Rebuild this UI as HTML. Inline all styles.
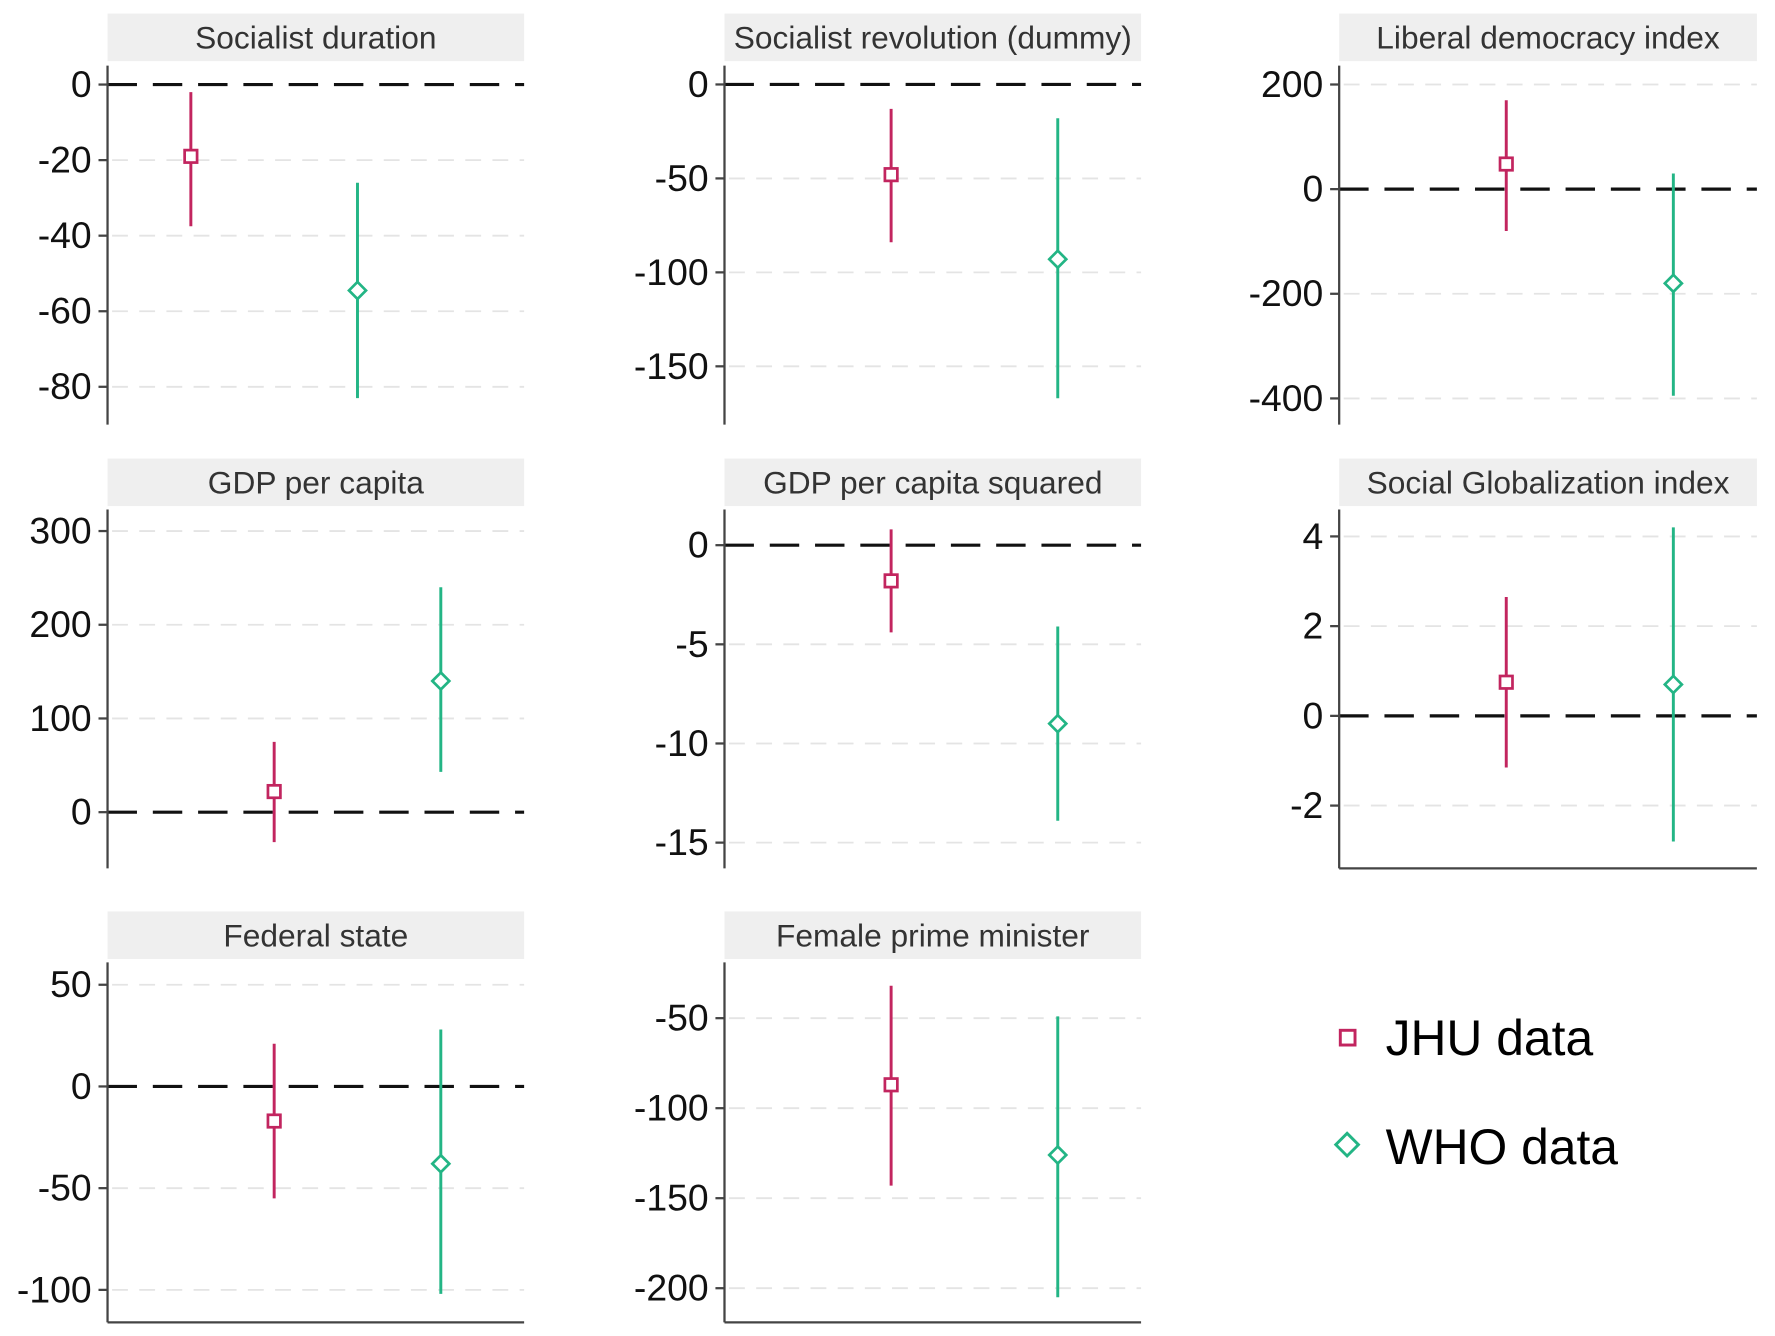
<!DOCTYPE html>
<html><head><meta charset="utf-8">
<style>
html,body{margin:0;padding:0;background:#fff;}
svg{display:block;}
text{font-family:"Liberation Sans",Arial,sans-serif;}
</style></head>
<body>
<svg id="chart" width="1775" height="1336" viewBox="0 0 1568 1180" preserveAspectRatio="none" xmlns="http://www.w3.org/2000/svg"></svg>
<script>
const titles = ["Socialist duration","Socialist revolution (dummy)","Liberal democracy index","GDP per capita","GDP per capita squared","Social Globalization index","Federal state","Female prime minister"];
const jhuEst = [-19,-48,48,22,-1.8,0.75,-17,-87];
const jhuLo  = [-37.5,-84,-80,-32,-4.4,-1.15,-55,-143];
const jhuHi  = [-2,-13,170,75,0.8,2.65,21,-32];
const whoEst = [-54.5,-93,-180,140,-9,0.7,-38,-126];
const whoLo  = [-83,-167,-395,43,-13.9,-2.8,-102,-205];
const whoHi  = [-26,-18,30,240,-4.1,4.2,28,-49];
const ticks = [[0,-20,-40,-60,-80],[0,-50,-100,-150],[200,0,-200,-400],[300,200,100,0],[0,-5,-10,-15],[4,2,0,-2],[50,0,-50,-100],[-50,-100,-150,-200]];
const yMax = [5,10,236,323,1.8,4.6,61,-19];
const yMin = [-90,-181,-450,-60,-16.3,-3.4,-116,-219];
const xJhu = [0.2,0.4,0.4,0.4,0.4,0.4,0.4,0.4];
const xWho = [0.6,0.8,0.8,0.8,0.8,0.8,0.8,0.8];

const NS="http://www.w3.org/2000/svg";
const svg=document.getElementById('chart');
const colL=[95,640,1183], colR=[463,1008,1552];
const rowHead=[12,405,805], rowTop=[58,450,850], rowBot=[375,767,1168];
const bottomAxis=[false,false,false,false,false,true,true,true];
const JHU="#c2255f", WHO="#23b585";
function mk(tag,attrs,parent){const e=document.createElementNS(NS,tag);for(const k in attrs)e.setAttribute(k,attrs[k]);(parent||svg).appendChild(e);return e;}

for(let i=0;i<8;i++){
  const c=i%3, r=Math.floor(i/3);
  const L=colL[c], R=colR[c], T=rowTop[r], B=rowBot[r];
  const g=mk('g',{});
  
  
  const y=v=>T+(yMax[i]-v)/(yMax[i]-yMin[i])*(B-T);
  const x=f=>L+f*(R-L);
  const hb=mk('rect',{x:L,y:rowHead[r],width:R-L,height:42,fill:'#efefef'},g);
  
  
  const ht=mk('text',{x:(L+R)/2,y:rowHead[r]+31,'text-anchor':'middle','font-size':28,fill:'#333'},g);
  ht.textContent=titles[i];
  
  
  ticks[i].forEach(t=>{
    const yy=y(t);
    if(t!==0){const gl=mk('line',{x1:L+4,x2:R,y1:yy,y2:yy,stroke:'#e4e4e4','stroke-width':1.6,'stroke-dasharray':'14,10'},g);
      
      }
    mk('line',{x1:L-8,x2:L,y1:yy,y2:yy,stroke:'#444','stroke-width':2},g);
    const tl=mk('text',{x:L-14,y:yy+11,'text-anchor':'end','font-size':33,fill:'#111'},g);
    tl.textContent=t;
    
    
  });
  if(yMin[i]<0 && yMax[i]>0){
    const z=mk('line',{x1:L,x2:R,y1:y(0),y2:y(0),stroke:'#111','stroke-width':2.8,'stroke-dasharray':'26,14'},g);
    
    
  }
  const ax=mk('line',{x1:L,x2:L,y1:T,y2:B,stroke:'#444','stroke-width':2},g);
  
  
  if(bottomAxis[i]){const bx=mk('line',{x1:L,x2:R,y1:B,y2:B,stroke:'#444','stroke-width':2},g);
    
    }
  const xj=x(xJhu[i]);
  const cj=mk('line',{x1:xj,x2:xj,y1:y(jhuHi[i]),y2:y(jhuLo[i]),stroke:JHU,'stroke-width':2.6},g);
  
  
  const pj=mk('rect',{x:xj-5.5,y:y(jhuEst[i])-5.5,width:11,height:11,fill:'#fff',stroke:JHU,'stroke-width':2.4},g);
  
  
  const xw=x(xWho[i]);
  const cw=mk('line',{x1:xw,x2:xw,y1:y(whoHi[i]),y2:y(whoLo[i]),stroke:WHO,'stroke-width':2.6},g);
  
  
  const yw=y(whoEst[i]);
  const pw=mk('polygon',{points:`${xw},${yw-7.5} ${xw+7.5},${yw} ${xw},${yw+7.5} ${xw-7.5},${yw}`,fill:'#fff',stroke:WHO,'stroke-width':2.4},g);
  
  
}
const lg=mk('g',{});


const l1=mk('rect',{x:1184,y:910,width:13,height:13,fill:'#fff',stroke:JHU,'stroke-width':2.6},lg);


const t1=mk('text',{x:1224,y:932,'font-size':44,fill:'#000'},lg);t1.textContent='JHU data';


const l2=mk('polygon',{points:'1190,1001 1200,1011 1190,1021 1180,1011',fill:'#fff',stroke:WHO,'stroke-width':2.6},lg);


const t2=mk('text',{x:1224,y:1028,'font-size':44,fill:'#000'},lg);t2.textContent='WHO data';


</script>
</body></html>
